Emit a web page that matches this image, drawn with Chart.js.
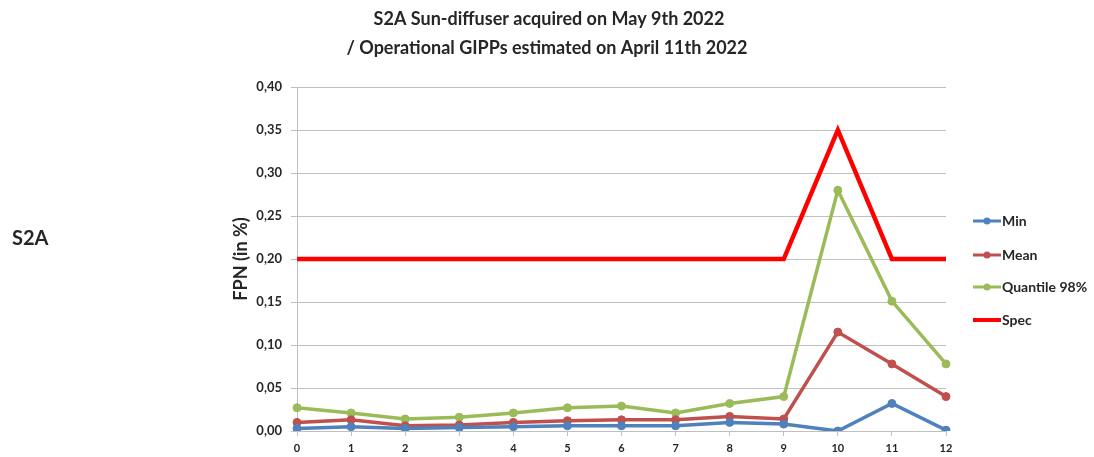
<!DOCTYPE html>
<html>
<head>
<meta charset="utf-8">
<script src="https://cdn.jsdelivr.net/npm/chart.js@4.4.1/dist/chart.umd.min.js"></script>
<style>
  html, body { margin: 0; padding: 0; background: #fff; }
  #wrap { width: 1094px; height: 457px; position: relative; }
</style>
</head>
<body>
<div id="wrap"><canvas id="myChart"></canvas></div>
<script>
// Datos del gráfico
const categories = ['0', '1', '2', '3', '4', '5', '6', '7', '8', '9', '10', '11', '12'];
const minValues = [0.003, 0.005, 0.003, 0.004, 0.005, 0.006, 0.006, 0.006, 0.010, 0.008, 0.000, 0.032, 0.001];
const meanValues = [0.010, 0.013, 0.006, 0.007, 0.010, 0.012, 0.013, 0.013, 0.017, 0.014, 0.115, 0.078, 0.040];
const q98Values = [0.027, 0.021, 0.014, 0.016, 0.021, 0.027, 0.029, 0.021, 0.032, 0.040, 0.280, 0.151, 0.078];
const specValues = [0.20, 0.20, 0.20, 0.20, 0.20, 0.20, 0.20, 0.20, 0.20, 0.20, 0.35, 0.20, 0.20];
const yTickLabels = ['0,00', '0,05', '0,10', '0,15', '0,20', '0,25', '0,30', '0,35', '0,40'];
const titleLines = ['S2A Sun-diffuser acquired on May 9th 2022', '/ Operational GIPPs estimated on April 11th 2022'];

const FONT = 'Lato, "Open Sans", sans-serif';
const TEXT = '#262626';

// titulo, etiqueta S2A y leyenda
const extras = {
    id: 'extras',
    afterDraw(chart) {
        const c = chart.ctx;
        c.save();
        c.fillStyle = TEXT;
        c.textAlign = 'center';
        c.textBaseline = 'middle';
        c.font = 'bold 18px ' + FONT;
        c.fillText(titleLines[0], 549, 19);
        c.fillText(titleLines[1], 547, 48);

        c.textAlign = 'left';
        c.font = 'bold 20px ' + FONT;
        c.fillText('S2A', 12, 239);

        const ys = [221, 255, 287, 320];
        c.font = 'bold 14px ' + FONT;
        chart.data.datasets.forEach((ds, i) => {
            const y = ys[i];
            c.strokeStyle = ds.borderColor;
            c.lineWidth = i === 3 ? 4 : 3;
            c.beginPath();
            c.moveTo(973, y);
            c.lineTo(1001, y);
            c.stroke();
            if (i < 3) {
                c.fillStyle = ds.borderColor;
                c.beginPath();
                c.arc(987, y, 3.5, 0, Math.PI * 2);
                c.fill();
            }
            c.fillStyle = TEXT;
            c.fillText(ds.label, 1002, y);
        });
        c.restore();
    }
};

const ctx = document.getElementById('myChart').getContext('2d');
const myChart = new Chart(ctx, {
    type: 'line',
    data: {
        labels: categories,
        datasets: [{
            label: 'Min',
            data: minValues,
            borderColor: '#4F81BD',
            backgroundColor: '#4F81BD',
            borderWidth: 3.5,
            pointRadius: 4,
            pointBorderWidth: 1,
            order: 2
        }, {
            label: 'Mean',
            data: meanValues,
            borderColor: '#C0504D',
            backgroundColor: '#C0504D',
            borderWidth: 3.5,
            pointRadius: 4,
            pointBorderWidth: 1,
            order: 3
        }, {
            label: 'Quantile 98%',
            data: q98Values,
            borderColor: '#9BBB59',
            backgroundColor: '#9BBB59',
            borderWidth: 3.5,
            pointRadius: 4,
            pointBorderWidth: 1,
            order: 4
        }, {
            label: 'Spec',
            data: specValues,
            borderColor: '#FF0000',
            backgroundColor: '#FF0000',
            borderWidth: 4.5,
            pointRadius: 0,
            order: 5
        }]
    },
    options: {
        responsive: true,
        maintainAspectRatio: false,
        animation: false,
        layout: {
            padding: { left: 0, right: 148, top: 87, bottom: 0 }
        },
        scales: {
            x: {
                offset: false,
                afterFit(scale) { scale.height = 26; },
                grid: { drawOnChartArea: false, tickLength: 5, color: '#BFBFBF' },
                border: { color: '#BFBFBF' },
                ticks: { color: TEXT, font: { family: FONT, size: 11, weight: 'bold' }, maxRotation: 0, padding: 6 }
            },
            y: {
                min: 0,
                max: 0.4,
                afterFit(scale) { scale.width = 297; },
                grid: { color: '#BFBFBF', tickLength: 6 },
                border: { color: '#BFBFBF' },
                ticks: {
                    stepSize: 0.05,
                    color: TEXT,
                    padding: 9,
                    font: { family: FONT, size: 13, weight: 'bold' },
                    callback: (v, i) => yTickLabels[i]
                },
                title: {
                    display: true,
                    text: 'FPN (in %)',
                    color: TEXT,
                    font: { family: FONT, size: 18, weight: 'bold' },
                    padding: { top: 230, bottom: 0 }
                }
            }
        },
        plugins: {
            legend: { display: false },
            title: { display: false },
            tooltip: { enabled: false }
        }
    },
    plugins: [extras]
});
</script>
</body>
</html>
